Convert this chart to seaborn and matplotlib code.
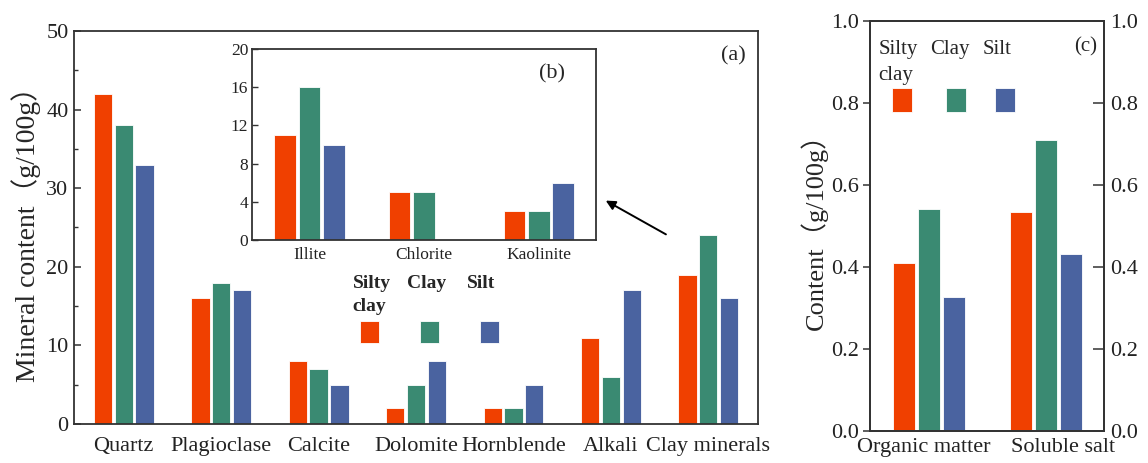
import numpy as np
import pandas as pd
import matplotlib
matplotlib.use("Agg")
import matplotlib.pyplot as plt
import matplotlib.transforms as mtransforms
from matplotlib.patches import Rectangle
import seaborn as sns

# ---------------- data ----------------
series = ["Silty clay", "Clay", "Silt"]
colors = ["#F04000", "#3A8A72", "#4A63A0"]

minerals = ["Quartz", "Plagioclase", "Calcite", "Dolomite", "Hornblende", "Alkali", "Clay minerals"]
min_silty_clay = [42, 16, 8, 2, 2, 11, 19]
min_clay = [38, 18, 7, 5, 2, 6, 24]
min_silt = [33, 17, 5, 8, 5, 17, 16]

clays = ["Illite", "Chlorite", "Kaolinite"]
clay_silty_clay = [11, 5, 3]
clay_clay = [16, 5, 3]
clay_silt = [10, 0, 6]

others = ["Organic matter", "Soluble salt"]
oth_silty_clay = [0.41, 0.533]
oth_clay = [0.54, 0.71]
oth_silt = [0.325, 0.432]

a_yticks = [0, 10, 20, 30, 40, 50]
b_yticks = [0, 4, 8, 12, 16, 20]
c_yticks = [0.0, 0.2, 0.4, 0.6, 0.8, 1.0]


def long_df(cats, a, b, c):
    rows = []
    for s, vals in zip(series, [a, b, c]):
        for cat, v in zip(cats, vals):
            rows.append({"cat": cat, "series": s, "value": v})
    return pd.DataFrame(rows)


df_a = long_df(minerals, min_silty_clay, min_clay, min_silt)
df_b = long_df(clays, clay_silty_clay, clay_clay, clay_silt)
df_c = long_df(others, oth_silty_clay, oth_clay, oth_silt)

# ---------------- style ----------------
sns.set_theme(style="ticks")
plt.rcParams["font.family"] = ["Liberation Serif", "Noto Sans CJK SC", "DejaVu Sans"]
plt.rcParams["axes.edgecolor"] = "#333333"
plt.rcParams["axes.linewidth"] = 1.3
plt.rcParams["xtick.color"] = "#333333"
plt.rcParams["ytick.color"] = "#333333"
plt.rcParams["xtick.labelcolor"] = "#222222"
plt.rcParams["ytick.labelcolor"] = "#222222"

fig = plt.figure(figsize=(11.48, 4.63), dpi=100)
ax_a = fig.add_axes([0.0645, 0.0842, 0.5958, 0.849])
ax_b = fig.add_axes([0.2198, 0.4816, 0.2994, 0.4126])
ax_c = fig.add_axes([0.7578, 0.0698, 0.2041, 0.8855])

pal = dict(zip(series, colors))
bar_kw = dict(x="cat", y="value", hue="series", hue_order=series, palette=pal,
              width=0.64, gap=0.12, edgecolor="white", linewidth=0.6,
              saturation=1, legend=False, errorbar=None)

# ---------------- (a) ----------------
sns.barplot(data=df_a, order=minerals, ax=ax_a, **bar_kw)
ax_a.set_xlim(-0.51, 6.51)
ax_a.set_ylim(0, 50)
ax_a.set_yticks(a_yticks)
ax_a.set_yticks(np.arange(5, 50, 10), minor=True)
ax_a.tick_params(axis="y", which="major", direction="in", length=5, width=1.1, labelsize=16, pad=4)
ax_a.tick_params(axis="y", which="minor", direction="in", length=3, width=1.0)
ax_a.tick_params(axis="x", length=0, labelsize=16, pad=9)
ax_a.set_xlabel("")
ax_a.set_ylabel("Mineral content（g/100g）", fontsize=20, labelpad=4)
for sp in ax_a.spines.values():
    sp.set_visible(True)
ax_a.text(0.982, 0.926, "(a)", transform=ax_a.transAxes, ha="right", va="baseline", fontsize=16)

# legend (a)
leg_text_x = [0.4075, 0.4864, 0.5741]
leg_labels_a = ["Silty\nclay", "Clay", "Silt"]
for xt, lab in zip(leg_text_x, leg_labels_a):
    ax_a.text(xt, 0.379, lab, transform=ax_a.transAxes, ha="left", va="top",
              fontsize=14, fontweight="bold", linespacing=1.45)
for xs, col in zip([0.4181, 0.5058, 0.5936], colors):
    ax_a.add_patch(Rectangle((xs, 0.2053), 0.0278, 0.0575, transform=ax_a.transAxes,
                             facecolor=col, edgecolor="white", linewidth=0.6))

ax_a.annotate("", xy=(0.7738, 0.5718), xytext=(0.8689, 0.479),
              xycoords="axes fraction", textcoords="axes fraction",
              arrowprops=dict(arrowstyle="-|>", color="black", lw=1.4, mutation_scale=14))

# ---------------- (b) inset ----------------
sns.barplot(data=df_b, order=clays, ax=ax_b, **bar_kw)
ax_b.set_xlim(-0.5, 2.5)
ax_b.set_ylim(0, 20)
ax_b.set_yticks(b_yticks)
ax_b.tick_params(axis="y", direction="in", length=4, width=1.0, labelsize=12.5, pad=3)
ax_b.tick_params(axis="x", length=0, labelsize=12.5, pad=5)
ax_b.set_xlabel("")
ax_b.set_ylabel("")
for sp in ax_b.spines.values():
    sp.set_visible(True)
    sp.set_linewidth(1.3)
ax_b.text(0.91, 0.843, "(b)", transform=ax_b.transAxes, ha="right", va="baseline", fontsize=16)

# ---------------- (c) ----------------
sns.barplot(data=df_c, order=others, ax=ax_c, **bar_kw)
ax_c.set_xlim(-0.5, 1.5)
ax_c.set_ylim(0, 1.0)
ax_c.set_yticks(c_yticks)
ax_c.set_yticklabels([f"{v:.1f}" for v in c_yticks])
ax_c.tick_params(axis="y", direction="out", length=5, width=1.1, labelsize=16, pad=3)
ax_c.tick_params(axis="x", length=0, labelsize=16, pad=5)
ax_c.set_xlabel("")
ax_c.set_ylabel("Content（g/100g）", fontsize=19, labelpad=2)
for sp in ax_c.spines.values():
    sp.set_visible(True)
# nudge the two category labels apart, as in the reference
for lab, dx in zip(ax_c.get_xticklabels(), [-0.05, 0.17]):
    lab.set_transform(lab.get_transform() + mtransforms.ScaledTranslation(dx, 0, fig.dpi_scale_trans))

ax_c2 = ax_c.twinx()
ax_c2.set_ylim(0, 1.0)
ax_c2.set_yticks(c_yticks)
ax_c2.set_yticklabels([f"{v:.1f}" for v in c_yticks])
ax_c2.tick_params(axis="y", direction="in", length=8, width=1.1, labelsize=16, pad=4)
ax_c.text(0.969, 0.924, "(c)", transform=ax_c.transAxes, ha="right", va="baseline", fontsize=15)

leg_labels_c = ["Silty\nclay", "Clay", "Silt"]
for xt, lab in zip([0.0354, 0.256, 0.479], leg_labels_c):
    ax_c.text(xt, 0.953, lab, transform=ax_c.transAxes, ha="left", va="top",
              fontsize=15, linespacing=1.5)
for xs, col in zip([0.0922, 0.3244, 0.5335], colors):
    ax_c.add_patch(Rectangle((xs, 0.7766), 0.087, 0.06, transform=ax_c.transAxes,
                             facecolor=col, edgecolor="white", linewidth=0.6))

fig.savefig("out.png", dpi=100)
